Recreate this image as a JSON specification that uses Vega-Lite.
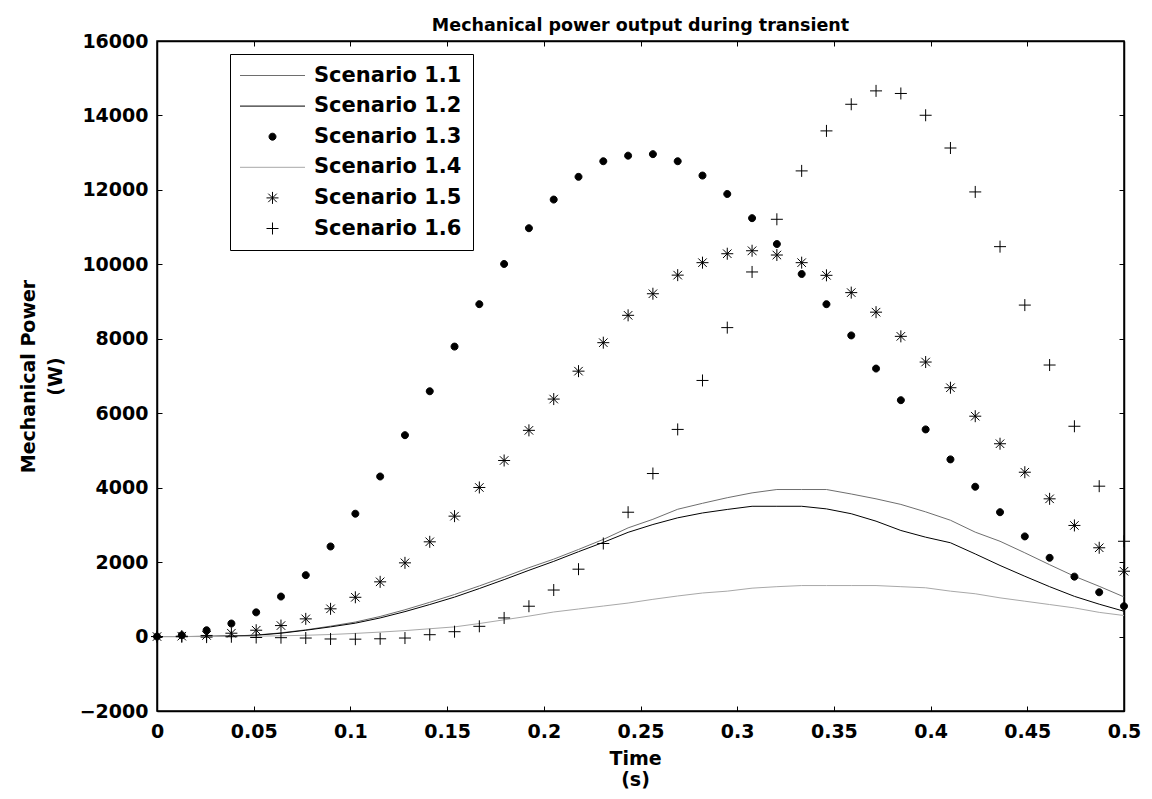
{
"$schema": "https://vega.github.io/schema/vega-lite/v6.json",
"width": 967, "height": 670,
"autosize": "none",
"padding": {"left": 157, "top": 41, "right": 28, "bottom": 88},
"background": "white",
"config": {"view": {"stroke": "black", "strokeWidth": 1.5}, "font": "DejaVu Sans"},
"title": {"text": "Mechanical power output during transient", "font": "DejaVu Sans", "fontSize": 17.5, "fontWeight": "bold", "color": "black", "anchor": "middle", "baseline": "alphabetic", "offset": -16},
"datasets": {
"w": [
{"t":0,"a":0,"b":0,"c":0,"d":0,"e":0,"f":0},
{"t":0.01282,"a":0,"b":0,"c":35,"d":0,"e":10,"f":-5},
{"t":0.02564,"a":5,"b":5,"c":170,"d":0,"e":30,"f":-15},
{"t":0.03846,"a":15,"b":15,"c":350,"d":5,"e":90,"f":-5},
{"t":0.05128,"a":40,"b":35,"c":650,"d":10,"e":170,"f":-25},
{"t":0.0641,"a":100,"b":90,"c":1075,"d":20,"e":295,"f":-30},
{"t":0.07692,"a":180,"b":170,"c":1650,"d":35,"e":475,"f":-40},
{"t":0.08974,"a":280,"b":260,"c":2420,"d":55,"e":745,"f":-65},
{"t":0.10256,"a":390,"b":360,"c":3300,"d":85,"e":1055,"f":-70},
{"t":0.11538,"a":540,"b":500,"c":4300,"d":120,"e":1470,"f":-60},
{"t":0.12821,"a":720,"b":670,"c":5410,"d":160,"e":1980,"f":-40},
{"t":0.14103,"a":920,"b":860,"c":6590,"d":210,"e":2545,"f":50},
{"t":0.15385,"a":1130,"b":1060,"c":7790,"d":260,"e":3235,"f":130},
{"t":0.16667,"a":1360,"b":1290,"c":8930,"d":350,"e":4005,"f":275},
{"t":0.17949,"a":1600,"b":1530,"c":10010,"d":450,"e":4730,"f":500},
{"t":0.19231,"a":1850,"b":1780,"c":10970,"d":550,"e":5540,"f":815},
{"t":0.20513,"a":2080,"b":2020,"c":11740,"d":660,"e":6380,"f":1250},
{"t":0.21795,"a":2340,"b":2280,"c":12350,"d":740,"e":7130,"f":1810},
{"t":0.23077,"a":2610,"b":2530,"c":12770,"d":820,"e":7895,"f":2500},
{"t":0.24359,"a":2920,"b":2800,"c":12920,"d":900,"e":8630,"f":3340},
{"t":0.25641,"a":3150,"b":3010,"c":12960,"d":1000,"e":9210,"f":4380},
{"t":0.26923,"a":3420,"b":3190,"c":12770,"d":1090,"e":9710,"f":5565},
{"t":0.28205,"a":3580,"b":3320,"c":12385,"d":1170,"e":10045,"f":6880},
{"t":0.29487,"a":3730,"b":3415,"c":11890,"d":1220,"e":10285,"f":8300},
{"t":0.30769,"a":3860,"b":3500,"c":11240,"d":1300,"e":10365,"f":9795},
{"t":0.32051,"a":3950,"b":3500,"c":10545,"d":1340,"e":10250,"f":11210},
{"t":0.33333,"a":3950,"b":3500,"c":9740,"d":1370,"e":10045,"f":12510},
{"t":0.34615,"a":3950,"b":3430,"c":8930,"d":1370,"e":9705,"f":13585},
{"t":0.35897,"a":3830,"b":3300,"c":8090,"d":1370,"e":9240,"f":14300},
{"t":0.37179,"a":3700,"b":3100,"c":7200,"d":1370,"e":8715,"f":14660},
{"t":0.38462,"a":3550,"b":2850,"c":6350,"d":1340,"e":8065,"f":14590},
{"t":0.39744,"a":3350,"b":2670,"c":5565,"d":1310,"e":7375,"f":14005},
{"t":0.41026,"a":3125,"b":2520,"c":4760,"d":1220,"e":6685,"f":13125},
{"t":0.42308,"a":2805,"b":2220,"c":4025,"d":1150,"e":5920,"f":11945},
{"t":0.4359,"a":2560,"b":1910,"c":3340,"d":1040,"e":5180,"f":10475},
{"t":0.44872,"a":2250,"b":1620,"c":2690,"d":950,"e":4415,"f":8905},
{"t":0.46154,"a":1930,"b":1340,"c":2115,"d":860,"e":3700,"f":7295},
{"t":0.47436,"a":1620,"b":1080,"c":1610,"d":770,"e":2985,"f":5650},
{"t":0.48718,"a":1350,"b":870,"c":1190,"d":650,"e":2385,"f":4040},
{"t":0.5,"a":1065,"b":680,"c":815,"d":565,"e":1755,"f":2560}
]},
"data": {"name": "w"},
"transform": [{"fold": ["a","b","c","d","e","f"], "as": ["k","v"]}],
"layer": [
{
"transform": [{"filter": {"field": "k", "oneOf": ["a","b","d"]}}],
"mark": {"type": "line", "strokeWidth": 1},
"encoding": {
"x": {"field": "t", "type": "quantitative", "scale": {"domain": [0, 0.5], "nice": false, "zero": false},
 "axis": {"orient": "bottom", "values": [0,0.05,0.1,0.15,0.2,0.25,0.3,0.35,0.4,0.45,0.5], "format": "~g", "grid": false, "tickSize": -5, "tickColor": "black", "domainColor": "black", "domainWidth": 1.5, "labelFont": "DejaVu Sans", "labelFontSize": 19, "labelFontWeight": "bold", "labelColor": "black", "labelPadding": 16, "labelFlush": false, "labelOverlap": false, "title": ["Time", "(s)"], "titleFont": "DejaVu Sans", "titleFontSize": 19, "titleFontWeight": "bold", "titleColor": "black", "titleX": 478, "titleY": 47, "titleBaseline": "middle", "titleAlign": "center", "titleLineHeight": 21}},
"y": {"field": "v", "type": "quantitative", "scale": {"domain": [-2000, 16000], "nice": false, "zero": false},
 "axis": {"orient": "left", "values": [-2000,0,2000,4000,6000,8000,10000,12000,14000,16000], "format": "d", "grid": false, "tickSize": -5, "tickColor": "black", "domainColor": "black", "domainWidth": 1.5, "labelFont": "DejaVu Sans", "labelFontSize": 19, "labelFontWeight": "bold", "labelColor": "black", "labelPadding": 14, "labelFlush": false, "labelOverlap": false, "title": ["Mechanical Power", "(W)"], "titleFont": "DejaVu Sans", "titleFontSize": 19, "titleFontWeight": "bold", "titleColor": "black", "titleX": -129, "titleY": 335, "titleAngle": 270, "titleBaseline": "middle", "titleAlign": "center", "titleLineHeight": 27}},
"color": {"field": "k", "type": "nominal",
 "scale": {"domain": ["a","b","c","d","e","f"], "range": ["#6e6e6e","#000000","#000000","#a8a8a8","#000000","#000000"]},
 "legend": {"orient": "none", "legendX": 73, "legendY": 13, "title": null, "padding": 11, "strokeColor": "black", "fillColor": "white", "labelFont": "DejaVu Sans", "labelFontSize": 21, "labelFontWeight": "bold", "labelColor": "black", "labelLimit": 400, "symbolSize": 100, "symbolOffset": 21, "labelOffset": 31, "rowPadding": 8.6, "symbolStrokeWidth": 1,
  "labelExpr": "{'a':'Scenario 1.1','b':'Scenario 1.2','c':'Scenario 1.3','d':'Scenario 1.4','e':'Scenario 1.5','f':'Scenario 1.6'}[datum.label]",
  "encode": {"symbols": {"update": {"fill": {"scale": "fill", "field": "value"}, "shape": {"scale": "shape", "field": "value"}, "stroke": {"scale": "color", "field": "value"}, "strokeWidth": {"value": 1}, "size": {"value": 100}, "opacity": {"value": 1}}}}}}
}
},
{
"transform": [{"filter": {"field": "k", "oneOf": ["c","e","f"]}}],
"mark": {"type": "point", "filled": false, "size": 100, "strokeWidth": 1, "opacity": 1},
"encoding": {
"x": {"field": "t", "type": "quantitative", "scale": {"domain": [0, 0.5], "nice": false, "zero": false},
 "axis": {"orient": "top", "values": [0,0.05,0.1,0.15,0.2,0.25,0.3,0.35,0.4,0.45,0.5], "labels": false, "title": null, "grid": false, "tickSize": -5, "tickColor": "black", "domainColor": "black", "domainWidth": 1.5}},
"y": {"field": "v", "type": "quantitative", "scale": {"domain": [-2000, 16000], "nice": false, "zero": false},
 "axis": {"orient": "right", "values": [-2000,0,2000,4000,6000,8000,10000,12000,14000,16000], "labels": false, "title": null, "grid": false, "tickSize": -5, "tickColor": "black", "domainColor": "black", "domainWidth": 1.5}},
"color": {"field": "k", "type": "nominal"},
"fill": {"field": "k", "type": "nominal",
 "scale": {"domain": ["a","b","c","d","e","f"], "range": ["transparent","transparent","#000000","transparent","transparent","transparent"]},
 "legend": {"orient": "none", "legendX": 73, "legendY": 13, "title": null}},
"shape": {"field": "k", "type": "nominal",
 "scale": {"domain": ["a","b","c","d","e","f"], "range": ["M-6.5,0L6.5,0","M-6.5,0L6.5,0","M0.7,0A0.7,0.7,0,1,1,-0.7,0A0.7,0.7,0,1,1,0.7,0Z","M-6.5,0L6.5,0","M-1.2,0L1.2,0M0,-1.2L0,1.2M-0.85,-0.85L0.85,0.85M-0.85,0.85L0.85,-0.85","M-1.2,0L1.2,0M0,-1.2L0,1.2"]},
 "legend": {"orient": "none", "legendX": 73, "legendY": 13, "title": null}}
}
}
],
"resolve": {"axis": {"x": "independent", "y": "independent"}}
}
